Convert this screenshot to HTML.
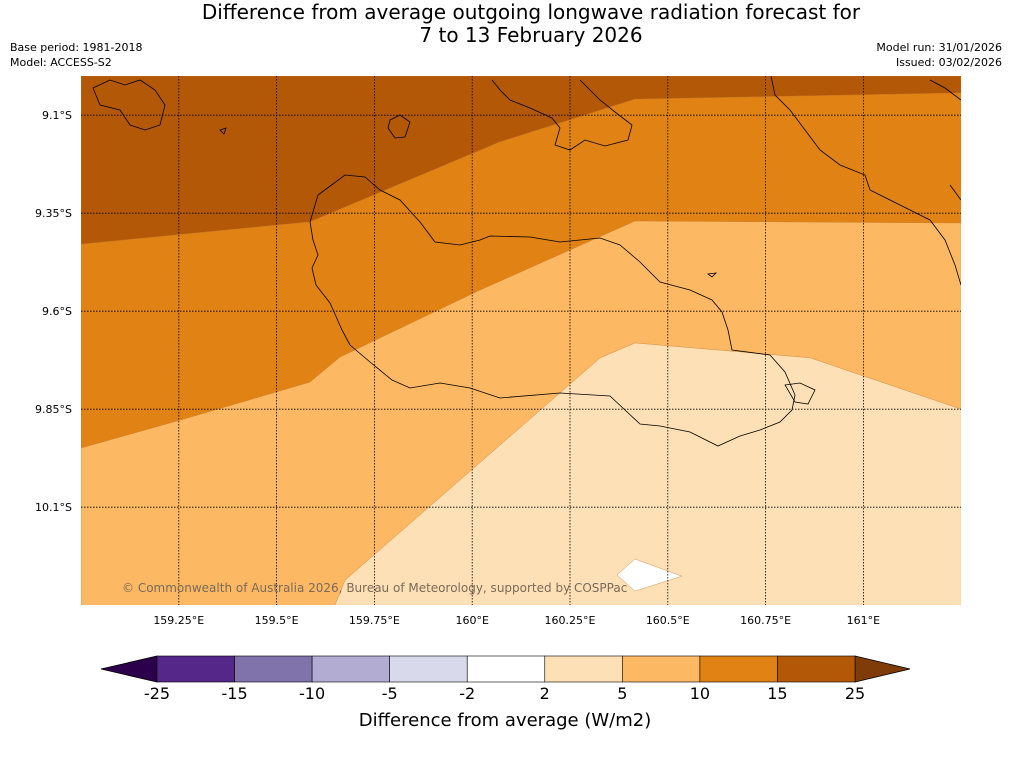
<!DOCTYPE html>
<html><head><meta charset="utf-8">
<style>
body{margin:0;background:#fff;width:1011px;height:758px;overflow:hidden;font-family:"DejaVu Sans",sans-serif}
svg text{font-family:"DejaVu Sans","Liberation Sans",sans-serif}
</style></head>
<body>
<svg id="c" width="1011" height="758">
<rect width="1011" height="758" fill="#fff"/>
<text x="531" y="19" font-size="20" text-anchor="middle">Difference from average outgoing longwave radiation forecast for</text>
<text x="531" y="42" font-size="20" text-anchor="middle">7 to 13 February 2026</text>
<text x="10" y="51" font-size="11">Base period: 1981-2018</text>
<text x="10" y="66" font-size="11">Model: ACCESS-S2</text>
<text x="1002" y="51" font-size="11" text-anchor="end">Model run: 31/01/2026</text>
<text x="1002" y="66" font-size="11" text-anchor="end">Issued: 03/02/2026</text>
<defs><clipPath id="mc"><rect x="81" y="76" width="880" height="529"/></clipPath></defs>
<g id="map" clip-path="url(#mc)"></g>
<g id="ax"></g>
<g id="cb"></g>
<text x="505" y="726" font-size="18" text-anchor="middle">Difference from average (W/m2)</text>
</svg>
<script>
const lonTicks=[159.25,159.5,159.75,160,160.25,160.5,160.75,161];
const latTicks=[9.1,9.35,9.6,9.85,10.1];
const cbLevels=[-25,-15,-10,-5,-2,2,5,10,15,25];
const cbColors=['#542788','#8073ac','#b2abd2','#d8daeb','#ffffff','#fee0b6','#fdb863','#e08214','#b35806'];
const cbLow='#2d004b', cbHigh='#7f3b08';
// contour regions [lon, lat(S)]
const regPale=[[159.0,9.0],[161.25,9.0],[161.25,10.35],[159.0,10.35]];
const regLight=[[159.0,9.0],[161.25,9.0],[161.25,9.85],[160.864,9.719],[160.416,9.681],[160.327,9.719],[159.675,10.286],[159.649,10.35],[159.0,10.35]];
const regOrange=[[159.0,9.0],[161.25,9.0],[161.25,9.375],[160.416,9.37],[160.02,9.546],[159.662,9.717],[159.585,9.781],[159.253,9.878],[159.0,9.949]];
const regDark=[[159.0,9.0],[161.25,9.0],[161.25,9.043],[160.416,9.059],[160.071,9.168],[159.585,9.372],[159.0,9.429]];
const regWhite=[[160.37,10.273],[160.416,10.232],[160.536,10.276],[160.416,10.314]];
const x=l=>81+(l-159)*391.2, y=t=>76+(t-9)*392;
const NS='http://www.w3.org/2000/svg';
function mk(tag,at,p){const e=document.createElementNS(NS,tag);for(const k in at)e.setAttribute(k,at[k]);p.appendChild(e);return e;}
const map=document.getElementById('map'),ax=document.getElementById('ax'),cb=document.getElementById('cb');
[[regPale,'#fee0b6','region-2-5'],[regLight,'#fdb863','region-5-10'],[regOrange,'#e08214','region-10-15'],[regDark,'#b35806','region-15-25'],[regWhite,'#ffffff','region-near-zero']].forEach(([r,c,n])=>{
 const p=mk('polygon',{points:r.map(v=>x(v[0])+','+y(v[1])).join(' '),fill:c,stroke:'#c77a30','stroke-width':0.4},map);
 
 
});
// coastlines (decorative)
const coast=[
"M310,222 L318,195 L345,175 L365,177 L380,190 L400,200 L420,222 L435,242 L460,245 L480,240 L490,236 L530,237 L560,242 L600,238 L620,245 L640,262 L660,282 L690,290 L712,300 L722,312 L728,330 L732,350 L770,355 L785,372 L795,395 L792,410 L780,422 L760,430 L740,436 L718,446 L690,432 L660,426 L640,424 L625,410 L610,396 L560,393 L500,398 L470,388 L440,383 L410,388 L392,380 L370,362 L350,345 L342,330 L330,303 L316,285 L312,268 L318,255 L313,240 Z",
"M390,120 L400,115 L410,122 L405,137 L395,138 L388,128 Z",
"M492,80 L500,90 L510,100 L530,108 L552,118 L560,128 L555,145 L570,150 L585,140 L605,146 L628,140 L632,125 L615,112 L600,100 L590,90 L580,80",
"M771,76 L775,95 L790,110 L805,130 L820,150 L840,165 L865,175 L870,190 L900,205 L930,220 L945,240 L955,265 L961,285",
"M93,88 L110,80 L125,85 L140,80 L155,90 L165,105 L160,125 L145,130 L130,125 L120,110 L100,105 Z",
"M708,274 L716,273 L712,277 Z","M785,385 L800,383 L815,390 L808,404 L795,402 Z",
"M220,130 L226,128 L224,134 Z","M950,185 L961,200","M930,80 L945,88 L961,100"];
coast.forEach(d=>{const p=mk('path',{d:d,fill:'none',stroke:'#000','stroke-width':0.8},map);});
// gridlines & ticks
lonTicks.forEach(l=>{
 const g=mk('line',{x1:x(l),x2:x(l),y1:76,y2:605,stroke:'#000','stroke-width':0.8,'stroke-dasharray':'1.5,1.5'},map);
 
 const t=mk('text',{x:x(l),y:624,'font-size':11,'text-anchor':'middle'},ax);t.textContent=l+'°E';
 
});
latTicks.forEach(l=>{
 const g=mk('line',{x1:81,x2:961,y1:y(l),y2:y(l),stroke:'#000','stroke-width':0.8,'stroke-dasharray':'1.5,1.5'},map);
 
 const t=mk('text',{x:72,y:y(l)+4,'font-size':11,'text-anchor':'end'},ax);t.textContent=l+'°S';
 
});
const cr=mk('text',{x:122,y:592,'font-size':12,fill:'#7a6a5a'},map);cr.textContent='© Commonwealth of Australia 2026, Bureau of Meteorology, supported by COSPPac';

// colorbar
const bx0=157,bw=(855-157)/cbColors.length,by=656,bh=26;
const lt=mk('polygon',{points:`101,669 ${bx0},${by} ${bx0},${by+bh}`,fill:cbLow,stroke:'#000','stroke-width':0.8},cb);

const rt=mk('polygon',{points:`910,669 855,${by} 855,${by+bh}`,fill:cbHigh,stroke:'#000','stroke-width':0.8},cb);

cbColors.forEach((c,i)=>{const r=mk('rect',{x:bx0+i*bw,y:by,width:bw,height:bh,fill:c,stroke:'#000','stroke-width':0.6},cb);
 });
cbLevels.forEach((v,i)=>{const t=mk('text',{x:bx0+i*bw,y:699,'font-size':16,'text-anchor':'middle'},cb);t.textContent=v;
 });
</script>
</body></html>
